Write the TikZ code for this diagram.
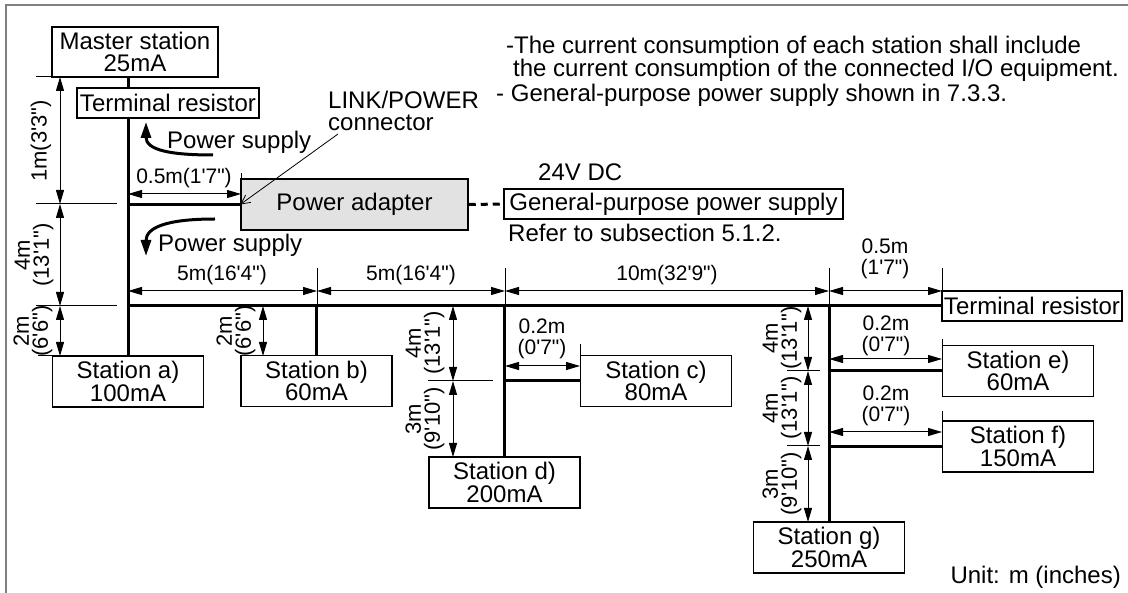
\documentclass[tikz,border=0pt]{standalone}
\usepackage{fontspec}
\setmainfont{Liberation Sans}[Ligatures=TeXOff]
\usetikzlibrary{arrows.meta,calc}
\begin{document}
\begin{tikzpicture}[x=1pt,y=-1pt,
  box/.style={draw,line width=1.5pt,inner sep=0pt,align=center,font=\fontsize{24}{22.5}\selectfont},
  stn/.style={box,minimum width=151pt,minimum height=51pt},
  bigtxt/.style={inner sep=0pt,font=\fontsize{24}{22.5}\selectfont},
  dimtxt/.style={inner sep=0pt,align=center,font=\fontsize{21}{20.5}\selectfont},
  vdimtxt/.style={inner sep=0pt,align=center,rotate=90,font=\fontsize{22}{19}\selectfont},
  bus/.style={line width=3pt},
  thinl/.style={line width=1pt},
  dim/.style={line width=1pt,{Triangle[length=14pt,width=8pt]}-{Triangle[length=14pt,width=8pt]}},
  psarrow/.style={line width=3pt,-{Triangle[length=16pt,width=10pt]}},
]
\useasboundingbox (0,0) rectangle (1128,593);
% frame
\draw[gray,line width=2pt] (6,593) -- (6,5) -- (1128,5);

% boxes
\node[box,minimum width=166pt,minimum height=50pt] (ms) at (135,52) {Master station\\25mA};
\node[box,minimum width=182pt,minimum height=30pt] (tr1) at (168,103) {Terminal resistor};
\node[box,minimum width=227pt,minimum height=51pt,fill={rgb,255:red,226;green,226;blue,226}] (pa) at (354.5,204.5) {Power adapter};
\node[box,minimum width=339pt,minimum height=30pt] (gp) at (673.5,204) {General-purpose power supply};
\node[box,minimum width=180pt,minimum height=30pt] (tr2) at (1032,306) {Terminal resistor};
\node[stn] (sa) at (128,381.5) {Station a)\\100mA};
\node[stn] (sb) at (316.5,381) {Station b)\\60mA};
\node[stn] (sc) at (656,381) {Station c)\\80mA};
\node[stn] (sd) at (504.5,482.5) {Station d)\\200mA};
\node[stn] (se) at (1018,371) {Station e)\\60mA};
\node[stn] (sf) at (1018,446.5) {Station f)\\150mA};
\node[stn] (sg) at (829,547.5) {Station g)\\250mA};

% wiring
\draw[bus] (ms.south -| sa.north) -- (tr1.north -| sa.north);
\draw[bus] (tr1.south -| sa.north) -- (sa.north);
\draw[bus] (pa.west -| sa.north) -- (pa.west);
\draw[line width=3pt,dash pattern=on 7pt off 5pt] (pa.east) -- (gp.west);
\draw[bus] (tr2.west -| sa.north) -- (tr2.west);
\draw[bus] (sb.north |- tr2.west) -- (sb.north);
\draw[bus] (sd.north |- tr2.west) -- (sd.north);
\draw[bus] (sd.north |- sc.west) -- (sc.west);
\draw[bus] (sg.north |- tr2.west) -- (sg.north);
\draw[bus] (sg.north |- se.west) -- (se.west);
\draw[bus] (sg.north |- sf.west) -- (sf.west);

% power supply arrows
\draw[psarrow] (213,155) .. controls (170,155) and (146,150) .. (146,122);
\node[bigtxt,anchor=west] (ps1) at (167,142) {Power supply};
\draw[psarrow] (215,219) .. controls (165,219) and (146,228) .. (146,256);
\node[bigtxt,anchor=west] (ps2) at (158,245) {Power supply};

% LINK/POWER label
\node[bigtxt,anchor=west,align=left] (lk) at (328,111) {LINK/POWER\\connector};
\coordinate (lkstart) at (338,134);
\draw[line width=0.8pt,-{Straight Barb[length=9pt,width=9pt]}] (lkstart) -- (pa.west);

% notes
\node[bigtxt,anchor=north west,align=left,font=\fontsize{24}{20}\selectfont] (n1) at (506,36) {-The current consumption of each station shall include\\\hspace*{7pt}the current consumption of the connected I/O equipment.};
\node[bigtxt,anchor=west] (n3) at (496,95) {- General-purpose power supply shown in 7.3.3.};
\node[bigtxt,anchor=west] (v24) at (538,172) {24V DC};
\node[bigtxt,anchor=west] (ref) at (508,233) {Refer to subsection 5.1.2.};
\node[bigtxt,anchor=east] (unit) at (1121,577) {Unit: m (inches)};

% horizontal dimensions
\draw[dim] (128,194) -- (241,194);
\draw[thinl] (241,173) -- (241,179);
\node[dimtxt] at (184,178) {0.5m(1'7")};

\draw[dim] (128,291) -- (317,291);
\draw[dim] (317,291) -- (505,291);
\draw[dim] (505,291) -- (829,291);
\draw[dim] (829,291) -- (942,291);
\draw[thinl] (317,268) -- (317,306);
\draw[thinl] (505,268) -- (505,306);
\draw[thinl] (829,268) -- (829,306);
\draw[thinl] (942,268) -- (942,291);
\node[dimtxt] at (222,275) {5m(16'4")};
\node[dimtxt] at (411,275) {5m(16'4")};
\node[dimtxt] at (667,275) {10m(32'9")};
\node[dimtxt] at (885,259) {0.5m\\(1'7")};

\draw[dim] (505,366) -- (580,366);
\draw[thinl] (580,344) -- (580,356);
\node[dimtxt] at (542,339) {0.2m\\(0'7")};
\draw[dim] (829,359) -- (942,359);
\draw[thinl] (942,339) -- (942,346);
\node[dimtxt] at (886,336) {0.2m\\(0'7")};
\draw[dim] (829,432) -- (942,432);
\draw[thinl] (942,411) -- (942,421);
\node[dimtxt] at (886,406) {0.2m\\(0'7")};

% vertical dimensions
\draw[thinl] (36,77) -- (100,77);
\draw[thinl] (36,204) -- (117,204);
\draw[thinl] (36,306) -- (117,306);
\draw[thinl] (38,356) -- (52,356);
\draw[dim] (60,77) -- (60,204);
\draw[dim] (60,204) -- (60,306);
\draw[dim] (60,306) -- (60,356);
\node[vdimtxt] at (41,141) {1m(3'3")};
\node[vdimtxt] at (34,255) {4m\\(13'1")};
\node[vdimtxt] at (33,331) {2m\\(6'6")};

\draw[dim] (263,306) -- (263,356);
\node[vdimtxt] at (236,331) {2m\\(6'6")};

\draw[thinl] (428,381) -- (493,381);
\draw[dim] (453,306) -- (453,381);
\draw[dim] (453,381) -- (453,457);
\node[vdimtxt] at (425,343) {4m\\(13'1")};
\node[vdimtxt] at (425,419) {3m\\(9'10")};

\draw[thinl] (787,371) -- (820,371);
\draw[thinl] (787,446) -- (820,446);
\draw[dim] (808,306) -- (808,371);
\draw[dim] (808,371) -- (808,446);
\draw[dim] (808,446) -- (808,522);
\node[vdimtxt] at (782,338) {4m\\(13'1")};
\node[vdimtxt] at (782,408) {4m\\(13'1")};
\node[vdimtxt] at (782,484) {3m\\(9'10")};
\end{tikzpicture}
\end{document}
